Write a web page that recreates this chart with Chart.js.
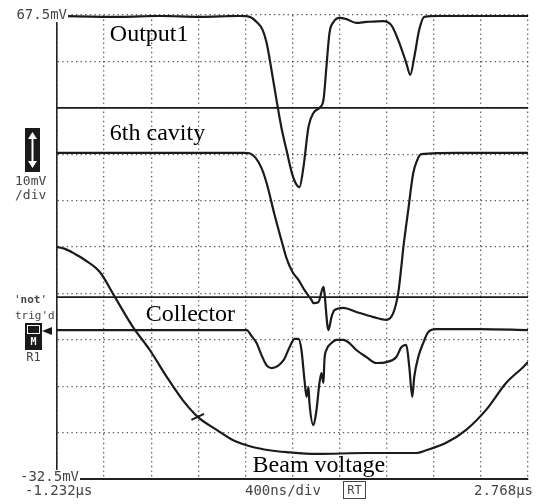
<!DOCTYPE html>
<html>
<head>
<meta charset="utf-8">
<title>Scope traces</title>
<script src="https://cdn.jsdelivr.net/npm/chart.js@4.4.1/dist/chart.umd.min.js"></script>
<style>
  html, body { margin: 0; padding: 0; background: #fff; }
  canvas { display: block; }
</style>
</head>
<body>
<canvas id="scope" width="537" height="504"></canvas>
<script>
// time in microseconds, voltage in mV (10 mV/div, 400 ns/div)
const xTicks = [-1.232, -0.832, -0.432, -0.032, 0.368, 0.768, 1.168, 1.568, 1.968, 2.368, 2.768];
const yTicks = [67.5, 57.5, 47.5, 37.5, 27.5, 17.5, 7.5, -2.5, -12.5, -22.5, -32.5];

const output1T = [-1.232, -0.698, -0.359, -0.020, 0.319, 0.404, 0.463, 0.514, 0.548, 0.590, 0.632, 0.675, 0.717, 0.760, 0.794, 0.827, 0.861, 0.904, 0.946, 0.997, 1.031, 1.056, 1.082, 1.116, 1.166, 1.226, 1.310, 1.395, 1.539, 1.607, 1.666, 1.734, 1.768, 1.802, 1.844, 1.887, 2.014, 2.353, 2.768];
const output1V = [67.3, 67.1, 67.3, 67.1, 67.3, 67.1, 66.0, 64.3, 61.5, 55.6, 49.2, 43.1, 38.4, 33.7, 31.3, 30.4, 34.7, 43.4, 46.4, 47.5, 49.2, 56.3, 63.6, 66.0, 66.9, 66.6, 65.8, 66.0, 66.2, 65.3, 62.1, 57.2, 54.6, 58.4, 64.3, 67.1, 67.3, 67.3, 67.3];

const cavityT = [-1.232, -0.444, 0.361, 0.404, 0.455, 0.505, 0.548, 0.616, 0.692, 0.717, 0.768, 0.819, 0.870, 0.929, 0.946, 0.988, 1.031, 1.039, 1.073, 1.099, 1.124, 1.200, 1.310, 1.455, 1.565, 1.624, 1.666, 1.692, 1.709, 1.751, 1.793, 1.827, 1.861, 2.183, 2.768];
const cavityV = [37.8, 37.8, 37.8, 37.7, 36.7, 34.5, 31.3, 24.4, 17.3, 15.1, 12.1, 10.4, 8.2, 6.1, 5.4, 5.6, 8.9, 7.6, -0.4, 2.4, 3.9, 4.4, 3.5, 2.4, 1.8, 3.3, 7.6, 13.2, 17.3, 25.5, 33.4, 36.2, 37.5, 37.8, 37.8];

const collectorT = [-1.232, -0.444, 0.344, 0.378, 0.421, 0.463, 0.505, 0.548, 0.590, 0.692, 0.743, 0.785, 0.819, 0.844, 0.870, 0.887, 0.904, 0.912, 0.946, 0.972, 0.997, 1.014, 1.031, 1.039, 1.056, 1.099, 1.141, 1.200, 1.251, 1.310, 1.395, 1.480, 1.565, 1.650, 1.692, 1.734, 1.760, 1.785, 1.802, 1.836, 1.878, 1.921, 1.989, 2.353, 2.768];
const collectorV = [-0.4, -0.4, -0.4, -0.4, -1.7, -3.2, -5.8, -8.0, -8.6, -6.9, -4.1, -2.3, -2.3, -4.7, -11.2, -14.8, -12.7, -16.1, -20.9, -17.6, -11.8, -9.7, -11.8, -6.9, -4.7, -3.2, -2.5, -2.5, -3.2, -4.7, -6.2, -7.5, -7.3, -6.2, -4.1, -3.6, -8.4, -14.8, -10.5, -6.2, -3.2, -0.8, -0.2, -0.2, -0.4];

const beamT = [-1.232, -1.164, -1.079, -0.995, -0.868, -0.740, -0.588, -0.444, -0.300, -0.164, -0.037, 0.124, 0.260, 0.429, 0.573, 0.717, 0.972, 1.395, 1.819, 1.904, 2.073, 2.243, 2.412, 2.582, 2.726, 2.768];
const beamV = [17.5, 17.1, 16.0, 14.7, 12.1, 6.7, 0.3, -4.7, -10.5, -15.5, -19.1, -21.9, -24.1, -25.6, -26.3, -26.7, -27.1, -26.9, -26.9, -26.3, -24.7, -21.9, -17.6, -11.8, -8.4, -7.3];

// flat reference traces and the cursor mark on the beam voltage
const refLevels = [47.5, 6.7];
const cursorT = [-0.037];
const cursorV = [-19.1];

// trace names, anchored in data units (left edge, baseline)
const traceLabels = ['Output1', '6th cavity', 'Collector', 'Beam voltage'];
const labelT = [-0.783, -0.783, -0.478, 0.429];
const labelV = [61.9, 40.6, 1.5, -31.0];

const traceColor = '#1b1b1b';
const gridColor = 'rgba(40, 40, 40, 0.75)';
const scopeText = '#454545';

function pts(ts, vs) {
    return ts.map((t, i) => ({ x: t, y: vs[i] }));
}

function traceDataset(label, ts, vs) {
    return {
        label: label,
        data: pts(ts, vs),
        borderColor: traceColor,
        borderWidth: 2.2,
        pointRadius: 0,
        cubicInterpolationMode: 'monotone',
        fill: false
    };
}

const datasets = [
    traceDataset('Output1', output1T, output1V),
    traceDataset('6th cavity', cavityT, cavityV),
    traceDataset('Collector', collectorT, collectorV),
    traceDataset('Beam voltage', beamT, beamV)
];

refLevels.forEach(lvl => {
    datasets.push({
        label: 'ref',
        data: [{ x: xTicks[0], y: lvl }, { x: xTicks[xTicks.length - 1], y: lvl }],
        borderColor: traceColor,
        borderWidth: 1.8,
        pointRadius: 0,
        fill: false
    });
});

datasets.push({
    type: 'scatter',
    label: 'cursor',
    data: pts(cursorT, cursorV),
    pointStyle: 'line',
    rotation: -25,
    pointRadius: 7,
    borderColor: traceColor,
    borderWidth: 2
});

// readout with a white patch behind it, so traces do not run through it
function readout(ctx, txt, x, y) {
    const w = ctx.measureText(txt).width;
    ctx.save();
    ctx.fillStyle = '#fff';
    ctx.fillRect(x - w - 1, y - 7, w + 2, 14);
    ctx.restore();
    ctx.fillText(txt, x, y);
}

// text and screen furniture of the scope
const scopeLabels = {
    id: 'scopeLabels',
    afterDraw(chart) {
        const ctx = chart.ctx;
        const xs = chart.scales.x;
        const ys = chart.scales.y;
        const area = chart.chartArea;

        ctx.save();
        // trace names
        ctx.fillStyle = '#000';
        ctx.font = '24px "Liberation Serif", "Times New Roman", serif';
        ctx.textBaseline = 'alphabetic';
        ctx.textAlign = 'left';
        traceLabels.forEach((txt, i) => {
            ctx.fillText(txt, xs.getPixelForValue(labelT[i]), ys.getPixelForValue(labelV[i]));
        });

        // scale readouts
        ctx.fillStyle = scopeText;
        ctx.font = '14px "DejaVu Sans Mono", monospace';
        ctx.textBaseline = 'middle';
        ctx.textAlign = 'right';
        readout(ctx, yTicks[0] + 'mV', area.left + 10, area.top);
        readout(ctx, yTicks[yTicks.length - 1] + 'mV', area.left + 22, area.bottom - 2);
        ctx.textAlign = 'left';
        ctx.fillText(xTicks[0] + 'µs', 25, area.bottom + 12);
        ctx.fillText('400ns/div', 245, area.bottom + 12);
        ctx.textAlign = 'right';
        ctx.fillText(xTicks[xTicks.length - 1] + 'µs', 533, area.bottom + 12);

        // RT box
        ctx.strokeStyle = scopeText;
        ctx.lineWidth = 1;
        ctx.strokeRect(343.5, 481.5, 22, 17);
        ctx.font = '12px "DejaVu Sans Mono", monospace';
        ctx.textAlign = 'center';
        ctx.fillText('RT', 354.5, 490.5);

        // volts/div indicator
        ctx.fillStyle = '#1a1a1a';
        ctx.fillRect(25, 128, 15, 44);
        ctx.strokeStyle = '#fff';
        ctx.fillStyle = '#fff';
        ctx.lineWidth = 2;
        ctx.beginPath();
        ctx.moveTo(32.5, 137);
        ctx.lineTo(32.5, 163);
        ctx.stroke();
        ctx.beginPath();
        ctx.moveTo(32.5, 132); ctx.lineTo(28, 139); ctx.lineTo(37, 139); ctx.closePath();
        ctx.moveTo(32.5, 168); ctx.lineTo(28, 161); ctx.lineTo(37, 161); ctx.closePath();
        ctx.fill();

        ctx.fillStyle = scopeText;
        ctx.font = '13px "DejaVu Sans Mono", monospace';
        ctx.textAlign = 'left';
        ctx.fillText('10mV', 15, 182);
        ctx.fillText('/div', 15, 196);

        // trigger status
        ctx.font = 'bold 11px "DejaVu Sans Mono", monospace';
        ctx.fillText('\u02C8not\u02C8', 14, 300);
        ctx.font = '11px "DejaVu Sans Mono", monospace';
        ctx.fillText('trig\'d', 15, 316);

        // channel marker
        ctx.fillStyle = '#1a1a1a';
        ctx.fillRect(25, 323, 17, 27);
        ctx.strokeStyle = '#fff';
        ctx.lineWidth = 1;
        ctx.strokeRect(27.5, 325.5, 12, 8);
        ctx.beginPath();
        ctx.moveTo(42, 331); ctx.lineTo(52, 327); ctx.lineTo(52, 335); ctx.closePath();
        ctx.fill();
        ctx.fillStyle = '#fff';
        ctx.font = 'bold 10px "DejaVu Sans Mono", monospace';
        ctx.textAlign = 'center';
        ctx.fillText('M', 33.5, 342);
        ctx.fillStyle = scopeText;
        ctx.font = '12px "DejaVu Sans Mono", monospace';
        ctx.fillText('R1', 33.5, 358);
        ctx.restore();
    }
};

new Chart(document.getElementById('scope').getContext('2d'), {
    type: 'line',
    data: { datasets: datasets },
    options: {
        responsive: false,
        animation: false,
        layout: { padding: { left: 57, top: 15, right: 8, bottom: 25 } },
        plugins: {
            legend: { display: false },
            tooltip: { enabled: false }
        },
        scales: {
            x: {
                type: 'linear',
                min: xTicks[0],
                max: xTicks[xTicks.length - 1],
                afterBuildTicks: s => { s.ticks = xTicks.map(v => ({ value: v })); },
                ticks: { display: false },
                grid: { color: gridColor, lineWidth: 1.3, drawTicks: false },
                border: { display: true, color: '#222', width: 2, dash: [1.4, 3.2] }
            },
            y: {
                min: yTicks[yTicks.length - 1],
                max: yTicks[0],
                afterBuildTicks: s => { s.ticks = yTicks.slice().reverse().map(v => ({ value: v })); },
                ticks: { display: false },
                grid: { color: gridColor, lineWidth: 1.3, drawTicks: false },
                border: { display: true, color: '#222', width: 1.6, dash: [1.4, 3.2] }
            }
        }
    },
    plugins: [scopeLabels]
});
</script>
</body>
</html>
